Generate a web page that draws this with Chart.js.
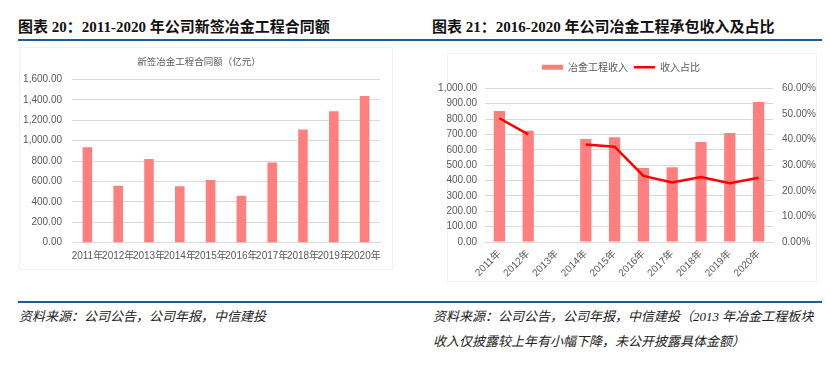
<!DOCTYPE html>
<html>
<head>
<meta charset="utf-8">
<script src="https://cdn.jsdelivr.net/npm/chart.js@4.4.0/dist/chart.umd.min.js"></script>
<style>
  body { margin: 0; width: 830px; height: 366px; background: #fff; position: relative; overflow: hidden; }
  .title { position: absolute; top: 16px; font-family: "Liberation Serif", "Noto Sans CJK SC", serif; font-weight: bold; font-size: 15px; color: #111; white-space: nowrap; line-height: 20px; }
  .title .cjk { font-family: "Noto Sans CJK SC", sans-serif; }
  .rule { position: absolute; height: 2px; background: #1f5b96; }
  .box { position: absolute; border: 1px solid #f3f3f3; }
  .note { position: absolute; font-family: "Liberation Serif", "Noto Sans CJK SC", serif; font-style: italic; font-size: 13px; color: #222; line-height: 25px; white-space: nowrap; }
  canvas { position: absolute; }
</style>
</head>
<body>
<div class="title" style="left:18px"><span class="cjk">图表</span> 20<span class="cjk">：</span>2011-2020 <span class="cjk">年公司新签冶金工程合同额</span></div>
<div class="title" style="left:432px"><span class="cjk">图表</span> 21<span class="cjk">：</span>2016-2020 <span class="cjk">年公司冶金工程承包收入及占比</span></div>
<div class="rule" style="left:18px; width:804px; top:39px"></div>

<div class="box" style="left:19px; top:47px; width:372px; height:221px"></div>
<div class="box" style="left:447px; top:53px; width:368px; height:227px"></div>

<div style="position:absolute; left:18px; top:47px; width:392px; height:240px"><canvas id="left"></canvas></div>
<div style="position:absolute; left:420px; top:50px; width:402px; height:240px"><canvas id="right"></canvas></div>

<div class="rule" style="left:18px; width:804px; top:301px"></div>
<div class="note" style="left:19px; top:304px">资料来源：公司公告，公司年报，中信建投</div>
<div class="note" style="left:433px; top:304px">资料来源：公司公告，公司年报，中信建投（2013 年冶金工程板块<br>收入仅披露较上年有小幅下降，未公开披露具体金额）</div>

<script>
// datos
const years = ['2011年', '2012年', '2013年', '2014年', '2015年', '2016年', '2017年', '2018年', '2019年', '2020年'];
const contractValues = [934, 558, 820, 552, 614, 460, 787, 1110, 1287, 1437];
const revenueValues = [852, 724, null, 670, 681, 482, 486, 651, 709, 911];
const shareValues = [48.3, 42.0, null, 38.1, 37.2, 25.8, 23.2, 25.4, 22.9, 25.1];

const tickFont = { family: '"Liberation Sans", "Noto Sans CJK SC", sans-serif', size: 10 };
const tickColor = '#595959';
const gridColor = '#d9d9d9';
const barColor = '#ff7f7f';

function money(v) {
    return Number(v).toLocaleString('en-US', { minimumFractionDigits: 2, maximumFractionDigits: 2 });
}

// grafico izquierdo
new Chart(document.getElementById('left').getContext('2d'), {
    type: 'bar',
    data: {
        labels: years,
        datasets: [{
            label: '新签冶金工程合同额（亿元）',
            data: contractValues,
            backgroundColor: barColor,
            borderWidth: 0,
            barPercentage: 0.31,
            categoryPercentage: 1
        }]
    },
    options: {
        responsive: true,
        maintainAspectRatio: false,
        animation: false,
        layout: { padding: { left: 0, right: 30, top: 0, bottom: 14.3 } },
        plugins: {
            legend: { display: false },
            tooltip: { enabled: false },
            title: {
                display: true,
                text: '新签冶金工程合同额（亿元）',
                color: tickColor,
                font: { family: '"Noto Sans CJK SC", sans-serif', size: 9.5, weight: 'normal', lineHeight: 1.2 },
                padding: { top: 9, bottom: 12 }
            }
        },
        scales: {
            x: {
                grid: { display: false, drawTicks: false },
                border: { display: true, color: gridColor },
                ticks: { color: tickColor, font: tickFont, padding: 8, maxRotation: 0, minRotation: 0, autoSkip: false },
                afterFit: s => { s.height = 30; }
            },
            y: {
                min: 0,
                max: 1600,
                grid: { color: gridColor, drawTicks: false },
                border: { display: false },
                ticks: { stepSize: 200, color: tickColor, font: tickFont, padding: 10, callback: v => money(v) },
                afterFit: s => { s.width = 54; }
            }
        }
    }
});

// grafico derecho
const legendGap = {
    id: 'legendGap',
    beforeInit(chart) {
        const fit = chart.legend.fit;
        chart.legend.fit = function() {
            fit.bind(chart.legend)();
            this.height += 6;
        };
    }
};

new Chart(document.getElementById('right').getContext('2d'), {
    type: 'bar',
    data: {
        labels: years,
        datasets: [
            {
                type: 'line',
                label: '收入占比',
                data: shareValues,
                borderColor: '#ff0000',
                backgroundColor: '#ff0000',
                borderWidth: 2.5,
                pointRadius: 0,
                pointStyle: 'line',
                tension: 0,
                spanGaps: false,
                yAxisID: 'y1',
                order: 0
            },
            {
                type: 'bar',
                label: '冶金工程收入',
                data: revenueValues,
                backgroundColor: barColor,
                borderWidth: 0,
                pointStyle: 'rect',
                barPercentage: 0.39,
                categoryPercentage: 1,
                yAxisID: 'y',
                order: 1
            }
        ]
    },
    plugins: [legendGap],
    options: {
        responsive: true,
        maintainAspectRatio: false,
        animation: false,
        layout: { padding: { left: 0, right: 0, top: 6.3, bottom: 8 } },
        plugins: {
            tooltip: { enabled: false },
            legend: {
                display: true,
                position: 'top',
                reverse: true,
                labels: {
                    usePointStyle: true,
                    pointStyleWidth: 21,
                    boxHeight: 5,
                    padding: 6,
                    color: tickColor,
                    font: { family: '"Noto Sans CJK SC", sans-serif', size: 10 }
                }
            }
        },
        scales: {
            x: {
                grid: { display: false, drawTicks: false },
                border: { display: true, color: gridColor },
                ticks: { color: tickColor, font: tickFont, padding: 6, minRotation: 45, maxRotation: 45, autoSkip: false },
                afterFit: s => { s.height = 40; }
            },
            y: {
                position: 'left',
                min: 0,
                max: 1000,
                grid: { color: gridColor, drawTicks: false },
                border: { display: false },
                ticks: { stepSize: 100, color: tickColor, font: tickFont, padding: 8, callback: v => money(v) },
                afterFit: s => { s.width = 65; }
            },
            y1: {
                position: 'right',
                min: 0,
                max: 60,
                grid: { drawOnChartArea: false, drawTicks: false },
                border: { display: false },
                ticks: { stepSize: 10, color: tickColor, font: tickFont, padding: 9, callback: v => Number(v).toFixed(2) + '%' },
                afterFit: s => { s.width = 49; }
            }
        }
    }
});
</script>
</body>
</html>
